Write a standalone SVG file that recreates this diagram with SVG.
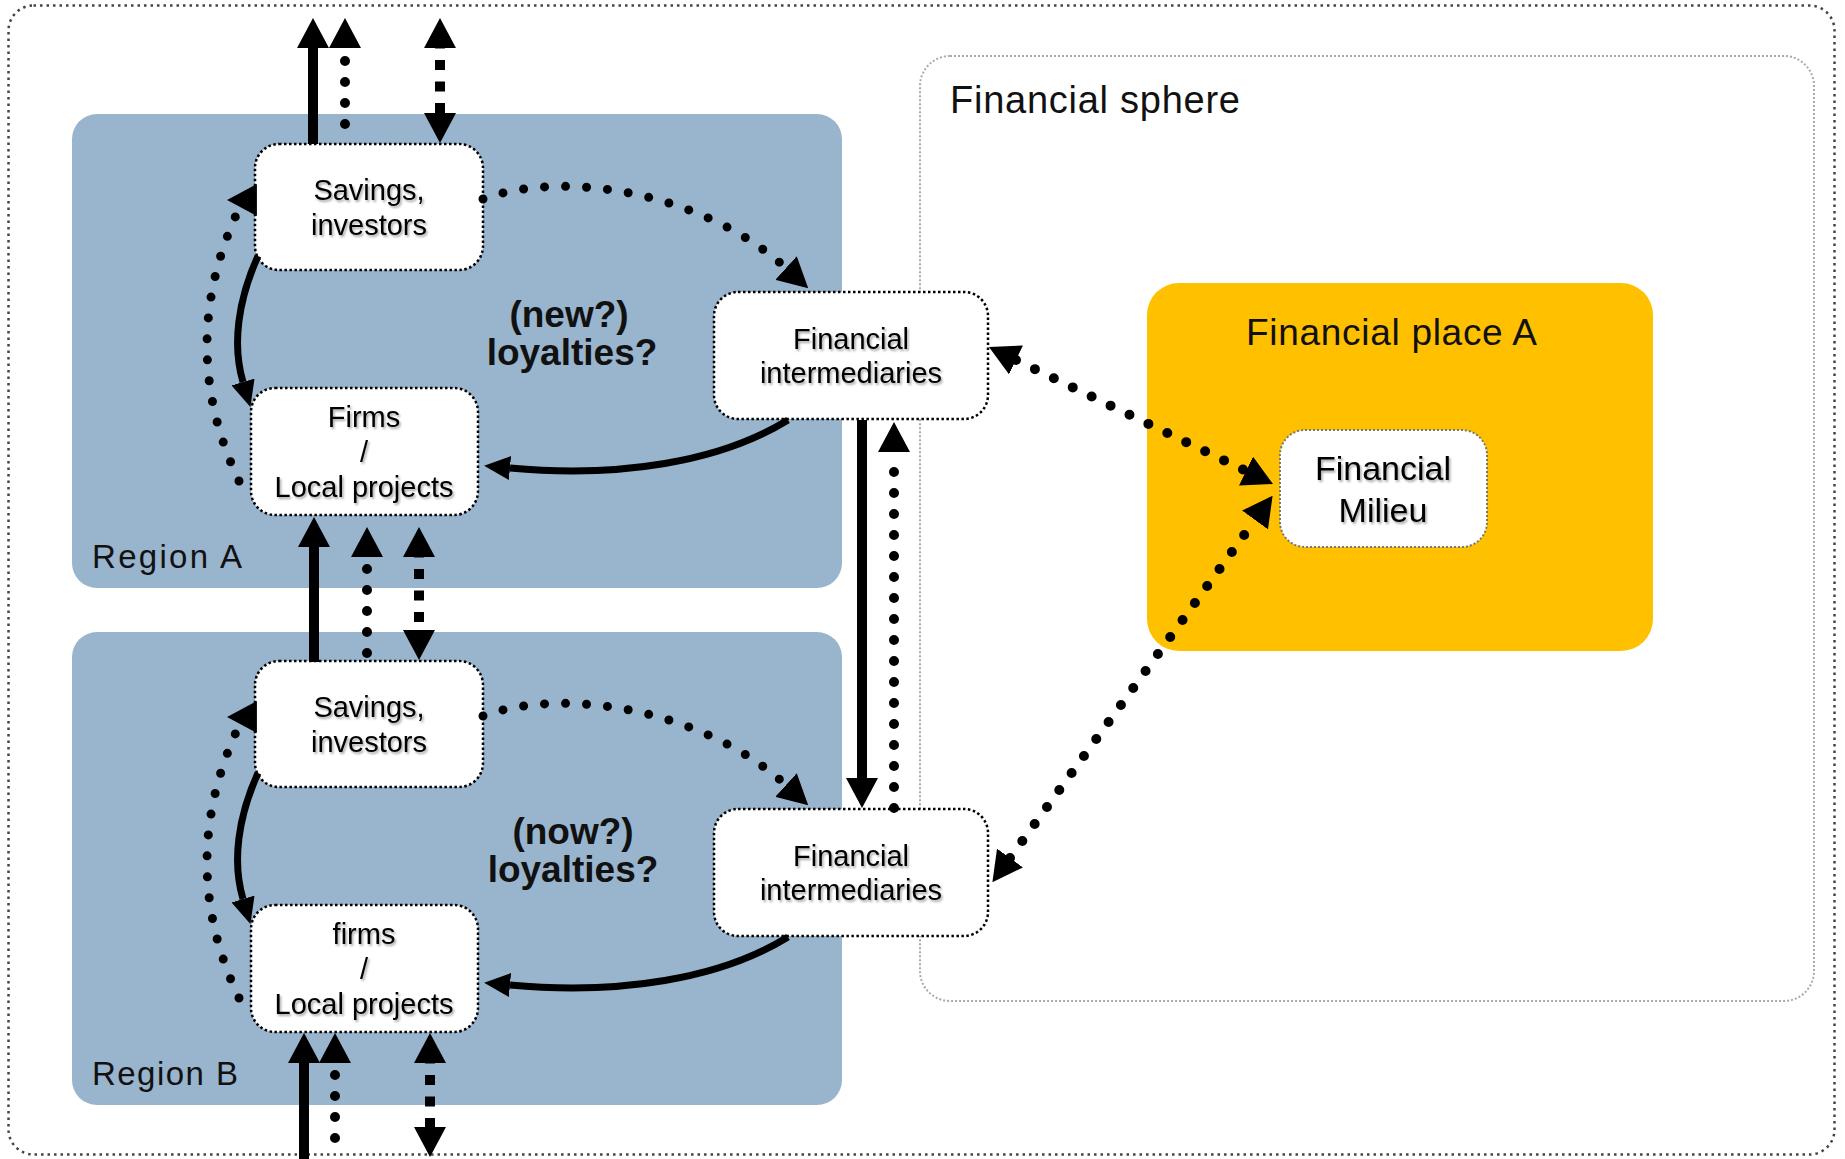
<svg xmlns="http://www.w3.org/2000/svg" width="1845" height="1159" viewBox="0 0 1845 1159">
<style>
.region{fill:#99B4CD}
.title{font-family:"Liberation Sans",Arial,sans-serif;fill:#111}
.node rect{fill:#fff;stroke:#000;stroke-width:2.5;stroke-dasharray:2.5 2.5}
.nt{font-family:"Liberation Sans",Arial,sans-serif;font-size:29px;fill:#000;text-anchor:middle;filter:url(#ts)}
.big{font-family:"Liberation Sans",Arial,sans-serif;font-size:37px;font-weight:bold;fill:#111;text-anchor:middle}
.solid{fill:none;stroke:#000;stroke-width:10}
.solidc{fill:none;stroke:#000;stroke-width:7}
.dot{fill:none;stroke:#000;stroke-width:10;stroke-linecap:round;stroke-dasharray:0 21}
.dotc{fill:none;stroke:#000;stroke-width:9;stroke-linecap:round;stroke-dasharray:0 21}
.dash{fill:none;stroke:#000;stroke-width:10;stroke-dasharray:10 11.5}
</style>
<defs>
<filter id="ts" x="-10%" y="-30%" width="130%" height="170%">
<feDropShadow dx="1.5" dy="2" stdDeviation="1.2" flood-color="#000" flood-opacity="0.35"/>
</filter>
<marker id="ah" viewBox="0 0 30 32" refX="0" refY="16" markerWidth="30" markerHeight="32" markerUnits="userSpaceOnUse" orient="auto-start-reverse">
<path d="M0,0 L30,16 L0,32 Z" fill="#000"/>
</marker>
<marker id="ahs" viewBox="0 0 26 24" refX="0" refY="12" markerWidth="26" markerHeight="24" markerUnits="userSpaceOnUse" orient="auto-start-reverse">
<path d="M0,0 L26,12 L0,24 Z" fill="#000"/>
</marker>
</defs>
<rect width="1845" height="1159" fill="#fff"/>
<rect x="8.5" y="5.5" width="1826" height="1149" rx="25" fill="none" stroke="#444" stroke-width="2.5" stroke-dasharray="2.5 4"/>

<g id="financial-sphere">
<rect x="920" y="56" width="894" height="945" rx="30" fill="none" stroke="#aaa" stroke-width="2" stroke-dasharray="2 2"/>
<text class="title" x="950" y="113" font-size="38" textLength="290">Financial sphere</text>
</g>

<g id="region-a">
<rect class="region" x="72" y="114" width="770" height="474" rx="25"/>
<text class="title" x="92" y="568" font-size="33" textLength="150">Region A</text>
<text class="big" x="569" y="327">(new?)</text>
<text class="big" x="572" y="365">loyalties?</text>
</g>

<g id="region-b">
<rect class="region" x="72" y="632" width="770" height="473" rx="25"/>
<text class="title" x="92" y="1085" font-size="33" textLength="146">Region B</text>
<text class="big" x="573" y="844">(now?)</text>
<text class="big" x="573" y="882">loyalties?</text>
</g>

<g id="financial-place-a">
<rect x="1147" y="283" width="506" height="368" rx="32" fill="#FFC000"/>
<text class="title" x="1246" y="345" font-size="37" textLength="291">Financial place A</text>
</g>

<g id="savings-a" class="node">
<rect x="255" y="144" width="228" height="126" rx="24"/>
<text class="nt" x="369" y="200">Savings,</text>
<text class="nt" x="369" y="235">investors</text>
</g>
<g id="firms-a" class="node">
<rect x="251" y="388" width="227" height="127" rx="24"/>
<text class="nt" x="364" y="427">Firms</text>
<text class="nt" x="364" y="462">/</text>
<text class="nt" x="364" y="497">Local projects</text>
</g>
<g id="finint-a" class="node">
<rect x="714" y="292" width="274" height="127" rx="24"/>
<text class="nt" x="851" y="349">Financial</text>
<text class="nt" x="851" y="383">intermediaries</text>
</g>
<g id="savings-b" class="node">
<rect x="255" y="661" width="228" height="126" rx="24"/>
<text class="nt" x="369" y="717">Savings,</text>
<text class="nt" x="369" y="752">investors</text>
</g>
<g id="firms-b" class="node">
<rect x="251" y="905" width="227" height="127" rx="24"/>
<text class="nt" x="364" y="944">firms</text>
<text class="nt" x="364" y="979">/</text>
<text class="nt" x="364" y="1014">Local projects</text>
</g>
<g id="finint-b" class="node">
<rect x="714" y="809" width="274" height="127" rx="24"/>
<text class="nt" x="851" y="866">Financial</text>
<text class="nt" x="851" y="900">intermediaries</text>
</g>
<g id="milieu" class="node">
<rect x="1280" y="430" width="207" height="117" rx="25" style="stroke:#777;stroke-width:2;stroke-dasharray:2 2"/>
<text class="nt" x="1383" y="480" style="font-size:34px">Financial</text>
<text class="nt" x="1383" y="522" style="font-size:34px">Milieu</text>
</g>

<g id="connectors">
<path class="solid" d="M313,144 L313,48" marker-end="url(#ah)"/>
<path class="dot" d="M345,124 L345,48" marker-end="url(#ah)"/>
<path class="dash" d="M440,48 L440,113" stroke-dashoffset="9.5" marker-start="url(#ah)" marker-end="url(#ah)"/>
<path class="solid" d="M314,662 L314,547" marker-end="url(#ah)"/>
<path class="dot" d="M367,653 L367,557" marker-end="url(#ah)"/>
<path class="dash" d="M419,557 L419,630" stroke-dashoffset="9.5" marker-start="url(#ah)" marker-end="url(#ah)"/>
<path class="solid" d="M304,1159 L304,1063" marker-end="url(#ah)"/>
<path class="dot" d="M335,1138 L335,1063" marker-end="url(#ah)"/>
<path class="dash" d="M430,1063 L430,1127" stroke-dashoffset="9.5" marker-start="url(#ah)" marker-end="url(#ah)"/>
<path class="solidc" d="M258,256 C238,300 232,345 243,382" marker-end="url(#ahs)"/>
<path class="dotc" d="M239,481 C196.7,392 196.7,302 237,213 L257,200 L256.9,200" marker-end="url(#ah)"/>
<path class="dotc" d="M483,199 C560,170 700,190 786,268" marker-end="url(#ah)"/>
<path class="solidc" d="M788,420 C720,462 620,478 510,468" marker-end="url(#ahs)"/>
<path class="solidc" d="M258,773 C238,817 232,862 243,899" marker-end="url(#ahs)"/>
<path class="dotc" d="M239,998 C196.7,909 196.7,819 237,730 L257,717 L256.9,717" marker-end="url(#ah)"/>
<path class="dotc" d="M483,716 C560,687 700,707 786,785" marker-end="url(#ah)"/>
<path class="solidc" d="M788,937 C720,979 620,995 510,985" marker-end="url(#ahs)"/>
<path class="solid" d="M862,420 L862,778" marker-end="url(#ah)"/>
<path class="dot" d="M894,808 L894,452" marker-end="url(#ah)"/>
<path class="dot" d="M1016,360 L1246,471" marker-start="url(#ah)" marker-end="url(#ah)"/>
<path class="dot" d="M1010,858 L1255,520" marker-start="url(#ah)" marker-end="url(#ah)"/>
</g>
</svg>
